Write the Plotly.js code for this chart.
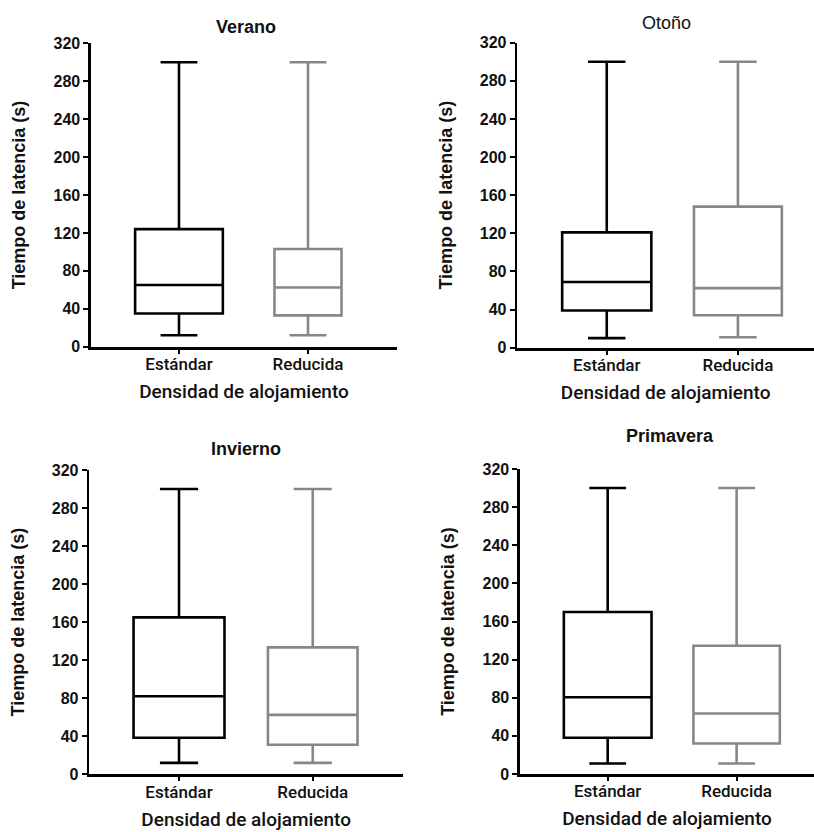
<!DOCTYPE html>
<html>
<head>
<meta charset="utf-8">
<script src="https://cdn.plot.ly/plotly-3.0.1.min.js"></script>
<style>html,body{margin:0;padding:0;background:#fff;}#chart{width:814px;height:832px;}</style>
</head>
<body>
<div id="chart"></div>
<script>
// ---- data ----
const seasons = ['Verano', 'Otoño', 'Invierno', 'Primavera'];
const categories = ['Estándar', 'Reducida'];
const yTicks = [0, 40, 80, 120, 160, 200, 240, 280, 320];

const stdLow  = [12, 10, 12, 11];
const stdQ1   = [35, 39, 38.5, 38];
const stdMed  = [65, 69, 82, 80.5];
const stdQ3   = [124, 121, 165, 170];
const stdHigh = [300, 300, 300, 300];

const redLow  = [12, 11, 12, 11];
const redQ1   = [33, 34, 31, 32];
const redMed  = [62.5, 62.5, 62.5, 63.5];
const redQ3   = [103, 148, 133.5, 134.5];
const redHigh = [300, 300, 300, 300];

// ---- layout helpers ----
const W = 814, H = 832;
const panels = [
  {x0: 91,    x1: 397, yTop: 43.3, yBot: 346.7, xr: [-0.682, 1.69], title: [246, 27],  bold: true,  redW: 0.52},
  {x0: 517.3, x1: 814, yTop: 42.7, yBot: 347.7, xr: [-0.682, 1.58], title: [666, 23],  bold: false, redW: 0.67},
  {x0: 89.3,  x1: 403, yTop: 470,  yBot: 774.3, xr: [-0.671, 1.675], title: [246, 449], bold: true,  redW: 0.67},
  {x0: 520,   x1: 814, yTop: 469,  yBot: 774,   xr: [-0.68, 1.6],  title: [670, 436], bold: true,  redW: 0.67}
];
const BLACK = '#000000', GRAY = '#878787';
const ARIAL = 'Liberation Sans, Arial, sans-serif';
const ROBOTO = 'Roboto, Liberation Sans, sans-serif';

const traces = [];
const layout = {
  width: W, height: H,
  margin: {l: 0, r: 0, t: 0, b: 0, autoexpand: false},
  paper_bgcolor: '#ffffff', plot_bgcolor: '#ffffff',
  showlegend: false,
  annotations: []
};

seasons.forEach((s, i) => {
  const p = panels[i];
  const n = i === 0 ? '' : String(i + 1);
  const xa = 'x' + n, ya = 'y' + n;
  traces.push({
    type: 'box', name: categories[0], x: [categories[0]],
    q1: [stdQ1[i]], median: [stdMed[i]], q3: [stdQ3[i]],
    lowerfence: [stdLow[i]], upperfence: [stdHigh[i]],
    boxpoints: false, width: 0.68, whiskerwidth: 0.42,
    line: {color: BLACK, width: 2.6}, fillcolor: 'rgba(255,255,255,0)',
    xaxis: xa, yaxis: ya
  });
  traces.push({
    type: 'box', name: categories[1], x: [categories[1]],
    q1: [redQ1[i]], median: [redMed[i]], q3: [redQ3[i]],
    lowerfence: [redLow[i]], upperfence: [redHigh[i]],
    boxpoints: false, width: p.redW, whiskerwidth: 0.42 * 0.68 / p.redW,
    line: {color: GRAY, width: 2.6}, fillcolor: 'rgba(255,255,255,0)',
    xaxis: xa, yaxis: ya
  });
  layout['xaxis' + n] = {
    domain: [p.x0 / W, Math.min(1, p.x1 / W)],
    anchor: ya,
    type: 'category', categoryarray: categories, categoryorder: 'array',
    range: p.xr,
    showgrid: false, zeroline: false,
    showline: true, linecolor: BLACK, linewidth: 3,
    ticks: 'outside', ticklen: 4, tickwidth: 2, tickcolor: BLACK,
    ticklabelstandoff: -4,
    tickfont: {family: ROBOTO, size: 17, color: '#111', weight: 500},
    title: {text: 'Densidad de alojamiento', font: {family: ROBOTO, size: 19, color: '#111', weight: 500}, standoff: 12},
    automargin: true, fixedrange: true
  };
  layout['yaxis' + n] = {
    domain: [1 - p.yBot / H, 1 - p.yTop / H],
    anchor: xa,
    range: [0, 320], tickvals: yTicks, ticktext: yTicks.map(String),
    showgrid: false, zeroline: false,
    showline: true, linecolor: BLACK, linewidth: 2.6,
    ticks: 'outside', ticklen: 5, tickwidth: 2, tickcolor: BLACK,
    tickfont: {family: ARIAL, size: 16, color: '#111', weight: 'bold'},
    title: {text: 'Tiempo de latencia (s)', font: {family: ARIAL, size: 18, color: '#111', weight: 'bold'}, standoff: 23},
    automargin: true, fixedrange: true
  };
  layout.annotations.push({
    text: s, xref: 'paper', yref: 'paper',
    x: p.title[0] / W, y: 1 - p.title[1] / H,
    xanchor: 'center', yanchor: 'middle', showarrow: false,
    font: {family: ARIAL, size: 18, color: '#111', weight: p.bold ? 'bold' : 'normal'}
  });
});

Plotly.newPlot('chart', traces, layout, {displayModeBar: false, staticPlot: true});
</script>
</body>
</html>
